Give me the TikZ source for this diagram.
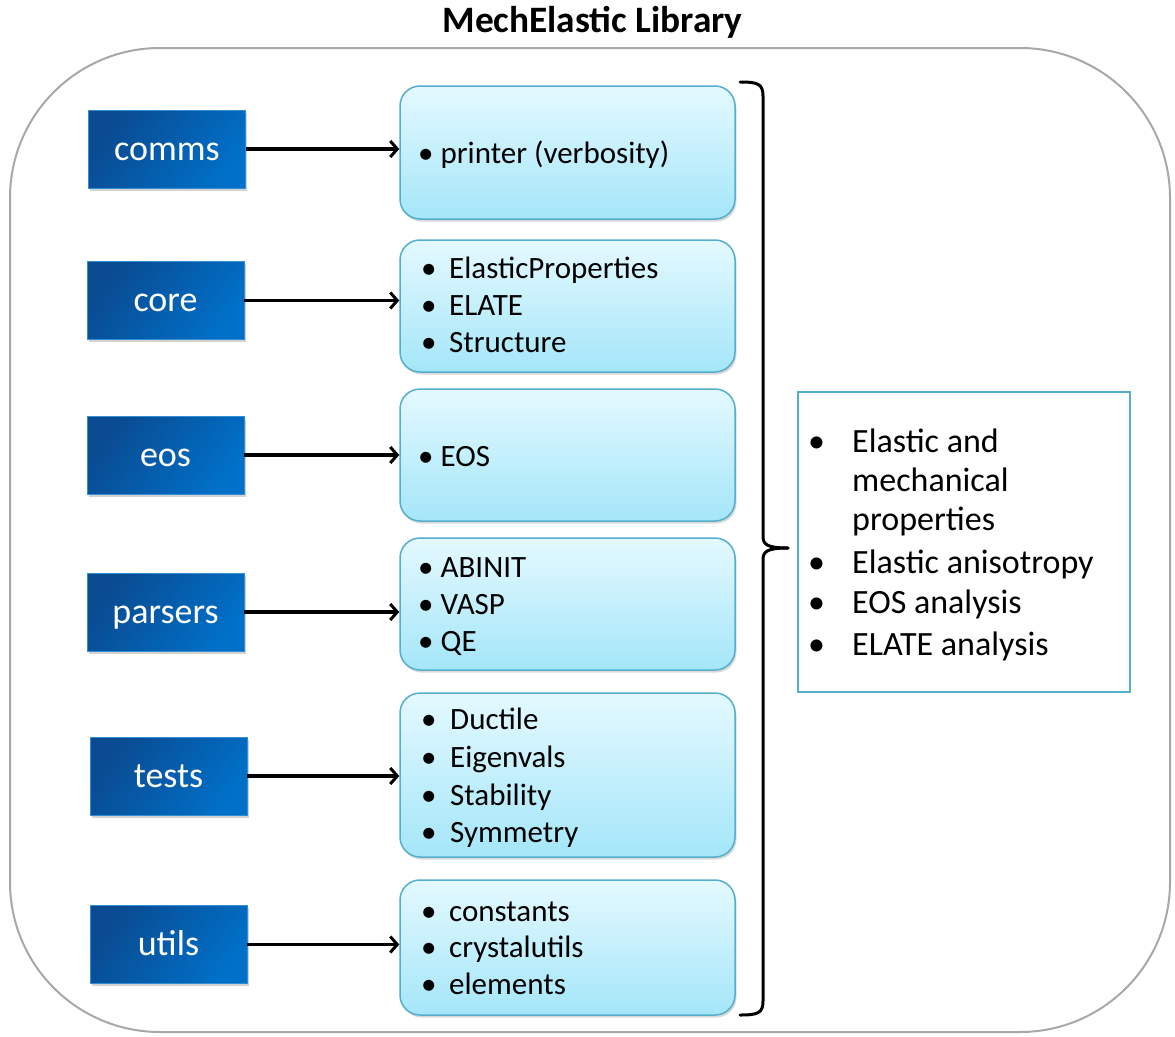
\documentclass[tikz,border=0pt]{standalone}
\usepackage{fontspec}
\setmainfont{Carlito}
\usetikzlibrary{arrows.meta,shadows}
\definecolor{bdark}{HTML}{0A4A90}
\definecolor{blight}{HTML}{0070C8}
\definecolor{ltop}{HTML}{E4F9FF}
\definecolor{lbot}{HTML}{A4E6F9}
\definecolor{lborder}{HTML}{55AECB}
\definecolor{outergray}{HTML}{A8A8A8}
\tikzset{
  modbox/.style={draw=blight!80!white, line width=0.8pt, left color=bdark, right color=blight,
    shading angle=55, minimum width=157pt, minimum height=78pt, inner sep=0pt, text=white,
    font=\fontsize{36}{36}\selectfont, text height=27pt, text depth=5pt,
    drop shadow={shadow xshift=1.5pt, shadow yshift=-2.5pt, opacity=0.35}},
  listbox/.style={draw=lborder, line width=1.5pt, rounded corners=20pt, top color=ltop,
    bottom color=lbot, minimum width=335pt, inner sep=0pt,
    drop shadow={shadow xshift=1.5pt, shadow yshift=-2.5pt, opacity=0.3}},
  itemtxt/.style={anchor=base west, inner sep=0pt, font=\fontsize{31}{31}\selectfont},
  restxt/.style={anchor=base west, inner sep=0pt, font=\fontsize{34}{34}\selectfont},
  conn/.style={line width=3.2pt, -{Straight Barb[length=7pt,width=16pt,line width=3pt]}},
  bracestroke/.style={line width=3pt, line cap=round, line join=round}
}
\begin{document}
\begin{tikzpicture}[x=1pt,y=-1pt]
\useasboundingbox (0,0) rectangle (1175,1036);
\node[font=\bfseries\fontsize{37.3}{37.3}\selectfont, inner sep=0pt] (title) at (592.5,22) {MechElastic Library};
\node[draw=outergray, line width=2pt, rounded corners=150pt, minimum width=1160pt, minimum height=984pt, inner sep=0pt] (frame) at (590,540) {};

% module boxes
\node[modbox] (comms) at (167,149) {comms};
\node[modbox] (core) at (165.5,300.5) {core};
\node[modbox] (eos) at (165.5,455) {eos};
\node[modbox] (parsers) at (165.5,612) {parsers};
\node[modbox] (tests) at (168.5,776) {tests};
\node[modbox] (utils) at (168.5,944.5) {utils};

% list boxes
\node[listbox, minimum height=133pt] (Lcomms) at (567.5,152.5) {};
\node[listbox, minimum height=132pt] (Lcore) at (567.5,306) {};
\node[listbox, minimum height=132pt] (Leos) at (567.5,455) {};
\node[listbox, minimum height=132pt] (Lparsers) at (567.5,604) {};
\node[listbox, minimum height=164pt] (Ltests) at (567.5,775) {};
\node[listbox, minimum height=135pt] (Lutils) at (567.5,947.5) {};

% connectors
\foreach \m in {comms,core,eos,parsers,tests,utils}{
  \draw[conn] (\m.east) -- (\m.east -| L\m.west);
}

% list texts
\node[itemtxt] (t1) at (418,163) {• printer (verbosity)};
\node[itemtxt] (t2a) at (421,278) {•};
\node[itemtxt] (t2b) at (449,278) {ElasticProperties};
\node[itemtxt] (t2c) at (421,315) {•};
\node[itemtxt] (t2d) at (449,315) {ELATE};
\node[itemtxt] (t2e) at (421,352) {•};
\node[itemtxt] (t2f) at (449,352) {Structure};
\node[itemtxt] (t3) at (418,466) {• EOS};
\node[itemtxt] (t4a) at (418,577) {• ABINIT};
\node[itemtxt] (t4b) at (418,614) {• VASP};
\node[itemtxt] (t4c) at (418,651) {• QE};
\node[itemtxt] (t5a) at (421,729) {•};
\node[itemtxt] (t5b) at (450,729) {Ductile};
\node[itemtxt] (t5c) at (421,767) {•};
\node[itemtxt] (t5d) at (450,767) {Eigenvals};
\node[itemtxt] (t5e) at (421,805) {•};
\node[itemtxt] (t5f) at (450,805) {Stability};
\node[itemtxt] (t5g) at (421,842) {•};
\node[itemtxt] (t5h) at (450,842) {Symmetry};
\node[itemtxt] (t6a) at (421,921) {•};
\node[itemtxt] (t6b) at (449,921) {constants};
\node[itemtxt] (t6c) at (421,957) {•};
\node[itemtxt] (t6d) at (449,957) {crystalutils};
\node[itemtxt] (t6e) at (421,994) {•};
\node[itemtxt] (t6f) at (449,994) {elements};

% brace
\coordinate (bt) at (740,82);
\coordinate (bb) at (740,1015);
\coordinate (btip) at (788,548);
\draw[bracestroke] (bt) .. controls (758,82) and (763,84) .. (763,96) -- (763,536)
  .. controls (763,544) and (766,548) .. (btip);
\draw[bracestroke] (bb) .. controls (758,1015) and (763,1013) .. (763,1001) -- (763,560)
  .. controls (763,552) and (766,548) .. (btip);

% result box
\node[draw=lborder, line width=2.5pt, minimum width=332pt, minimum height=300pt, inner sep=0pt] (res) at (964,542) {};
\node[restxt] (r1) at (808,452) {•};
\node[restxt] (r1t) at (852,452) {Elastic and};
\node[restxt] (r2t) at (852,491) {mechanical};
\node[restxt] (r3t) at (852,530) {properties};
\node[restxt] (r4) at (808,573) {•};
\node[restxt] (r4t) at (852,573) {Elastic anisotropy};
\node[restxt] (r5) at (808,613) {•};
\node[restxt] (r5t) at (852,613) {EOS analysis};
\node[restxt] (r6) at (808,655) {•};
\node[restxt] (r6t) at (852,655) {ELATE analysis};
\end{tikzpicture}
\end{document}
